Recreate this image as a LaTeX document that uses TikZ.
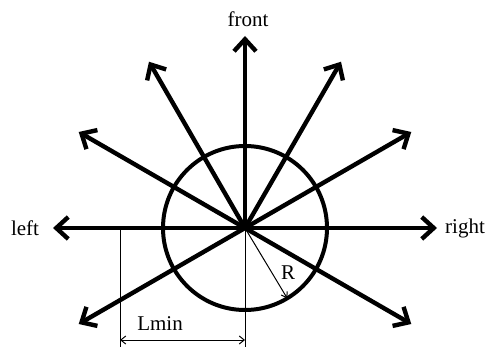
\documentclass[tikz,border=0pt]{standalone}
\usepackage{fontspec}
\setmainfont{Liberation Serif}
\usetikzlibrary{arrows.meta,calc}
\begin{document}
\begin{tikzpicture}[x=1pt,y=-1pt,
  dirarrow/.style={line width=4.4pt,-{Straight Barb[length=12pt,width=22pt,line width=4.4pt]}},
  thinline/.style={line width=1pt},
  dimarrow/.style={line width=1pt,{Straight Barb[length=5pt,width=8pt]}-{Straight Barb[length=5pt,width=8pt]}},
  lbl/.style={font=\fontsize{21}{23}\selectfont,inner sep=1pt}]
\useasboundingbox (0,0) rectangle (489,347);
\coordinate (c) at (245,228);
% circle
\draw[line width=4pt] (c) circle[radius=82];
% direction arrows
\foreach \a/\n in {90/front,0/right,180/left,60/ur,120/ul,30/urs,150/uls,-30/lr,210/ll}{
  \coordinate (t\n) at ($(c)+(\a:192 and -192)$);
  \draw[dirarrow] (c) -- (t\n);
}
% labels
\node[lbl] (lfront) at (248,19) {front};
\node[lbl] (lright) at (465,228) {right};
\node[lbl] (lleft) at (25,228) {left};
% radius
\coordinate (rr) at ($(c)+(-59:82 and -82)$);
\draw[thinline,-{Straight Barb[length=5pt,width=7pt]}] (c) -- (rr);
\node[lbl] (lR) at (288,273) {R};
% dimension Lmin
\coordinate (d1) at (120,228);
\coordinate (d1b) at (120,347);
\coordinate (d2b) at (245,347);
\draw[thinline] (d1) -- (d1b);
\draw[thinline] (c) -- (d2b);
\coordinate (a1) at (120,340);
\coordinate (a2) at (245,340);
\draw[dimarrow] (a1) -- (a2);
\node[lbl] (lL) at (160,324) {Lmin};
\end{tikzpicture}
\end{document}
